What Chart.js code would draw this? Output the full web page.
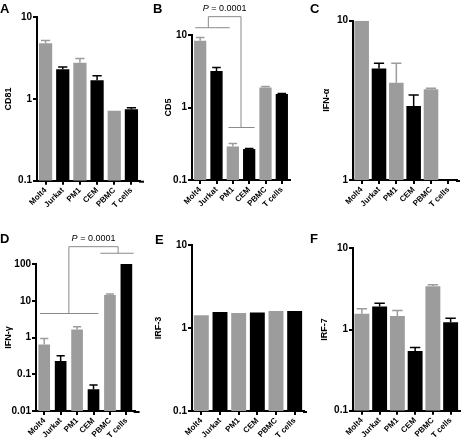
<!DOCTYPE html>
<html>
<head>
<meta charset="utf-8">
<script src="https://cdn.jsdelivr.net/npm/chart.js@4.4.0/dist/chart.umd.min.js"></script>
<style>
body { margin: 0; background: #fff; }
#fig { position: relative; width: 463px; height: 443px; overflow: hidden; font-family: "Liberation Sans", Arial, sans-serif; }
#fig canvas { position: absolute; }
.lbl { position: absolute; font-weight: bold; font-size: 13px; line-height: 13px; color: #000; }
</style>
</head>
<body>
<div id="fig">
  <canvas id="cA"></canvas>
  <canvas id="cB"></canvas>
  <canvas id="cC"></canvas>
  <canvas id="cD"></canvas>
  <canvas id="cE"></canvas>
  <canvas id="cF"></canvas>
  <div class="lbl" style="left:0px;top:1.6px">A</div>
  <div class="lbl" style="left:153px;top:2.3px">B</div>
  <div class="lbl" style="left:310px;top:2.3px">C</div>
  <div class="lbl" style="left:0px;top:231.6px">D</div>
  <div class="lbl" style="left:155px;top:232.6px">E</div>
  <div class="lbl" style="left:310px;top:231.6px">F</div>
</div>
<script>
// cell lines, same order in every panel
var cells = ['Molt4', 'Jurkat', 'PM1', 'CEM', 'PBMC', 'T cells'];
var gray = '#9c9c9c';
var barColors = [gray, '#000', gray, '#000', gray, '#000'];

// bar heights and top of error bar (mean + SEM)
var cd81 = [4.8, 2.32, 2.77, 1.7, 0.72, 0.75];
var cd81Err = [5.2, 2.47, 3.13, 1.92, null, 0.78];
var cd5 = [8.3, 3.2, 0.29, 0.267, 1.89, 1.53];
var cd5Err = [9.25, 3.55, 0.32, 0.272, 1.95, 1.56];
var ifnA = [10, 5.02, 4.08, 2.91, 3.71, null];
var ifnAErr = [null, 5.4, 5.4, 3.42, 3.76, null];
var ifnG = [0.64, 0.23, 1.65, 0.039, 14.3, 100];
var ifnGErr = [0.94, 0.32, 1.95, 0.051, 15.2, null];
var irf3 = [1.42, 1.56, 1.52, 1.54, 1.6, 1.6];
var irf3Err = [null, null, null, null, null, null];
var irf7 = [1.56, 1.92, 1.47, 0.545, 3.4, 1.23];
var irf7Err = [1.8, 2.11, 1.72, 0.6, 3.55, 1.38];

// decade ticks on the log axes
var ticks01to10 = [0.1, 1, 10];
var ticks1to10 = [1, 10];
var ticks001to100 = [0.01, 0.1, 1, 10, 100];

// significance brackets (x in category units, y in data units)
var bracketB = { text: ' = 0.0001', top: 17.9,
  left: { from: -0.3, to: 1.81, mid: 0.5, y: 12.6 },
  right: { from: 1.73, to: 3.33, mid: 2.5, y: 0.53 } };
var bracketD = { text: ' = 0.0001', top: 296,
  left: { from: -0.26, to: 3.3, mid: 1.5, y: 4.5 },
  right: { from: 3.41, to: 5.44, mid: 4.5, y: 196 } };

var panels = [
  { id: 'cA', title: 'CD81', values: cd81, err: cd81Err, min: 0.1, max: 10, ticks: ticks01to10,
    left: 0, top: 0, cl: 37, cr: 140, ct: 17.3, cb: 180.7, titlePad: 3.6, bar: 0.77, ext: 4 },
  { id: 'cB', title: 'CD5', values: cd5, err: cd5Err, min: 0.1, max: 10, ticks: ticks01to10,
    left: 152, top: 0, cl: 192, cr: 290, ct: 35, cb: 180, titlePad: 11.3, bar: 0.75, ext: 0, bracket: bracketB },
  { id: 'cC', title: 'IFN-\u03b1', values: ifnA, err: ifnAErr, min: 1, max: 10, ticks: ticks1to10,
    left: 312, top: 0, cl: 353, cr: 457, ct: 20.7, cb: 180, titlePad: 9.3, bar: 0.84, ext: 3 },
  { id: 'cD', title: 'IFN-\u03b3', values: ifnG, err: ifnGErr, min: 0.01, max: 100, ticks: ticks001to100,
    left: 0, top: 220, cl: 36, cr: 134.6, ct: 264, cb: 411, titlePad: 2.9, bar: 0.71, ext: 5, bracket: bracketD },
  { id: 'cE', title: 'IRF-3', values: irf3, err: irf3Err, min: 0.1, max: 10, ticks: ticks01to10,
    left: 152, top: 220, cl: 192, cr: 304, ct: 245, cb: 411, titlePad: 0.9, bar: 0.8, ext: 3 },
  { id: 'cF', title: 'IRF-7', values: irf7, err: irf7Err, min: 0.1, max: 10, ticks: ticks01to10,
    left: 312, top: 220, cl: 353, cr: 459.5, ct: 248.3, cb: 410.7, titlePad: 7.6, bar: 0.84, ext: 0 }
];

Chart.defaults.font.family = "'Liberation Sans', Arial, sans-serif";
Chart.defaults.color = '#000';

var extrasPlugin = {
  id: 'extras',
  afterDatasetsDraw: function(chart) {
    var p = chart.options.plugins.extras;
    var ctx = chart.ctx;
    var meta = chart.getDatasetMeta(0);
    var y = chart.scales.y;
    ctx.save();
    meta.data.forEach(function(bar, i) {
      var hi = p.err[i];
      if (hi == null || p.values[i] == null) return;
      var yTop = y.getPixelForValue(hi);
      var half = bar.width * 0.35;
      ctx.strokeStyle = barColors[i];
      ctx.lineWidth = 1.5;
      ctx.beginPath();
      ctx.moveTo(bar.x, bar.y);
      ctx.lineTo(bar.x, yTop);
      ctx.moveTo(bar.x - half, yTop);
      ctx.lineTo(bar.x + half, yTop);
      ctx.stroke();
    });
    ctx.restore();
  },
  afterDraw: function(chart) {
    var p = chart.options.plugins.extras;
    var ctx = chart.ctx;
    var area = chart.chartArea;
    ctx.save();
    if (p.ext > 0) {
      ctx.strokeStyle = '#000';
      ctx.lineWidth = 2;
      ctx.beginPath();
      ctx.moveTo(area.right - 1, area.bottom + 1);
      ctx.lineTo(area.right + p.ext, area.bottom + 1);
      ctx.stroke();
    }
    var b = p.bracket;
    if (b) {
      var x = chart.scales.x, y = chart.scales.y;
      var yt = y.getPixelForValue(b.top);
      var yl = y.getPixelForValue(b.left.y), yr = y.getPixelForValue(b.right.y);
      var xl = x.getPixelForValue(b.left.mid), xr = x.getPixelForValue(b.right.mid);
      ctx.strokeStyle = '#8a8a8a';
      ctx.lineWidth = 1;
      ctx.beginPath();
      ctx.moveTo(x.getPixelForValue(b.left.from), yl);
      ctx.lineTo(x.getPixelForValue(b.left.to), yl);
      ctx.moveTo(xl, yl);
      ctx.lineTo(xl, yt);
      ctx.lineTo(xr, yt);
      ctx.lineTo(xr, yr);
      ctx.moveTo(x.getPixelForValue(b.right.from), yr);
      ctx.lineTo(x.getPixelForValue(b.right.to), yr);
      ctx.stroke();
      // "P = 0.0001" with italic P, centred over the top line
      var fIt = 'italic 9px "Liberation Sans", Arial, sans-serif';
      var fRg = '9px "Liberation Sans", Arial, sans-serif';
      ctx.font = fIt;
      var wP = ctx.measureText('P').width;
      ctx.font = fRg;
      var wR = ctx.measureText(b.text).width;
      var x0 = (xl + xr) / 2 - (wP + wR) / 2;
      ctx.fillStyle = '#000';
      ctx.textBaseline = 'alphabetic';
      ctx.textAlign = 'left';
      ctx.font = fIt;
      ctx.fillText('P', x0, yt - 5.5);
      ctx.font = fRg;
      ctx.fillText(b.text, x0 + wP, yt - 5.5);
    }
    ctx.restore();
  }
};

function makePanel(p) {
  var canvas = document.getElementById(p.id);
  var w = Math.ceil(p.cr + 8 - p.left);
  var h = Math.ceil(p.cb - p.top + 40);
  canvas.width = w;
  canvas.height = h;
  canvas.style.width = w + 'px';
  canvas.style.height = h + 'px';
  canvas.style.left = p.left + 'px';
  canvas.style.top = p.top + 'px';
  var yWidth = p.cl - p.left;
  var xHeight = h - (p.cb - p.top);

  return new Chart(canvas, {
    type: 'bar',
    data: {
      labels: cells,
      datasets: [{
        data: p.values,
        backgroundColor: barColors,
        borderWidth: 0,
        barPercentage: p.bar,
        categoryPercentage: 1
      }]
    },
    options: {
      responsive: false,
      animation: false,
      devicePixelRatio: 1,
      layout: { padding: { top: p.ct - p.top, right: w - (p.cr - p.left), left: 0, bottom: 0 } },
      plugins: {
        legend: { display: false },
        tooltip: { enabled: false },
        extras: { err: p.err, values: p.values, bracket: p.bracket, ext: p.ext }
      },
      scales: {
        x: {
          type: 'category',
          offset: true,
          grid: { offset: false, drawOnChartArea: false, drawTicks: true, tickLength: 4, lineWidth: 2, color: '#000' },
          border: { display: true, color: '#000', width: 2 },
          ticks: { color: '#000', autoSkip: false, minRotation: 45, maxRotation: 45, padding: 1,
                   font: { size: 8, weight: 'bold' } },
          afterFit: function(scale) { scale.height = xHeight; }
        },
        y: {
          type: 'logarithmic',
          min: p.min,
          max: p.max,
          grid: { drawOnChartArea: false, drawTicks: true, tickLength: 4, lineWidth: 2, color: '#000' },
          border: { display: true, color: '#000', width: 2 },
          ticks: { color: '#000', padding: 1, font: { size: 10, weight: 'bold' },
                   callback: function(v) { return String(v); } },
          title: { display: true, text: p.title, color: '#000', font: { size: 9, weight: 'bold' },
                   padding: { top: p.titlePad, bottom: 0 } },
          afterBuildTicks: function(scale) {
            scale.ticks = p.ticks.map(function(v) { return { value: v }; });
          },
          afterFit: function(scale) { scale.width = yWidth; }
        }
      }
    },
    plugins: [extrasPlugin]
  });
}

panels.forEach(makePanel);
</script>
</body>
</html>
